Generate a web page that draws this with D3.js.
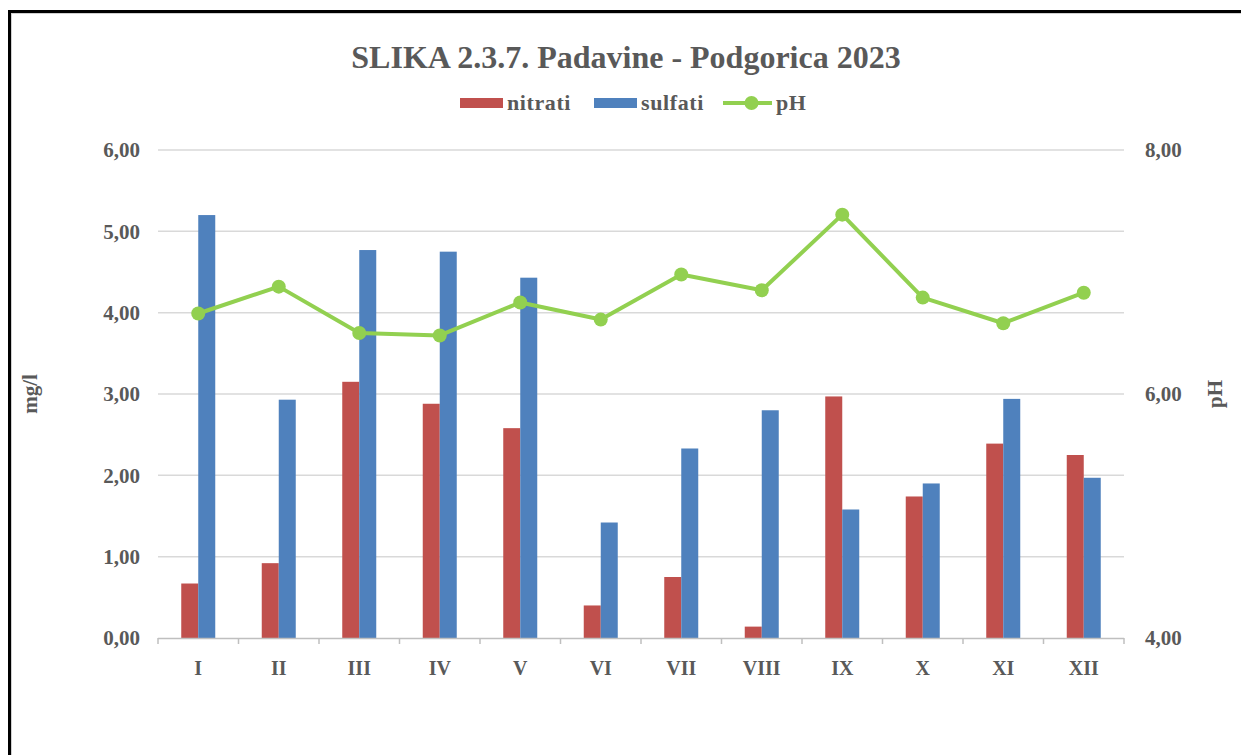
<!DOCTYPE html>
<html><head><meta charset="utf-8">
<script src="https://cdn.jsdelivr.net/npm/d3@7"></script>
<style>body{margin:0;background:#fff}svg{display:block}</style>
</head><body><svg id="c" width="1241" height="755"></svg>
<script>
const months = ["I","II","III","IV","V","VI","VII","VIII","IX","X","XI","XII"];
const nitrati = [0.67,0.92,3.15,2.88,2.58,0.40,0.75,0.14,2.97,1.74,2.39,2.25];
const sulfati = [5.20,2.93,4.77,4.75,4.43,1.42,2.33,2.80,1.58,1.90,2.94,1.97];
const pH = [6.66,6.88,6.50,6.48,6.75,6.61,6.98,6.85,7.47,6.79,6.58,6.83];
const leftTicks = [0,1,2,3,4,5,6];
const rightTicks = [4,6,8];
const seriesNames = ["nitrati","sulfati","pH"];
const colors = {nitrati:"#C0504D", sulfati:"#4F81BD", pH:"#92D050"};

const svg = d3.select("#c");
const font = "'Liberation Serif','Times New Roman',serif";
const grey = "#595959";
// frame
svg.append("rect").attr("x",9.5).attr("y",11.5).attr("width",1300).attr("height",800)
  .attr("fill","none").attr("stroke","#000").attr("stroke-width",3);
svg.append("rect").attr("x",11.5).attr("y",13.5).attr("width",1300).attr("height",800)
  .attr("fill","none").attr("stroke","#d0d0d0").attr("stroke-width",1);

const L=158, R=1124, T=150, B=638;
const x0 = d3.scaleBand().domain(months).range([L,R]).padding(0);
const bw = x0.bandwidth();
const x1 = d3.scaleBand().domain(["nitrati","sulfati"]).range([bw/2-17, bw/2+17]);
const yL = d3.scaleLinear().domain([0,6]).range([B,T]);
const yR = d3.scaleLinear().domain([4,8]).range([B,T]);
const fmt = d => d.toFixed(2).replace(".",",");

// gridlines
svg.append("g").selectAll("line").data(leftTicks.filter(d=>d>0)).join("line")
  .attr("x1",L).attr("x2",R).attr("y1",d=>yL(d)).attr("y2",d=>yL(d))
  .attr("stroke","#d9d9d9").attr("stroke-width",1.5);

// bars
months.forEach((m,i)=>{
  [["nitrati",nitrati[i]],["sulfati",sulfati[i]]].forEach(([s,v])=>{
    svg.append("rect").attr("x",x0(m)+x1(s)).attr("width",x1.bandwidth())
      .attr("y",yL(v)).attr("height",yL(0)-yL(v)).attr("fill",colors[s]);
  });
});

// x axis
const xa = svg.append("g").attr("transform",`translate(0,${B})`)
  .call(d3.axisBottom(x0).tickSize(0).tickPadding(0));
xa.select(".domain").remove();
svg.append("line").attr("x1",L).attr("x2",R).attr("y1",B+0.5).attr("y2",B+0.5).attr("stroke","#bfbfbf").attr("stroke-width",1.5);
svg.append("g").selectAll("line").data(d3.range(13)).join("line")
  .attr("x1",d=>L+d*bw).attr("x2",d=>L+d*bw).attr("y1",B).attr("y2",B+6)
  .attr("stroke","#bfbfbf").attr("stroke-width",1.5);
xa.selectAll("text").attr("y",37).attr("dy",0).attr("font-family",font).attr("font-weight","bold")
  .attr("font-size",20).attr("fill",grey);

// left axis
const ya = svg.append("g").attr("transform",`translate(${L},0)`)
  .call(d3.axisLeft(yL).tickValues(leftTicks).tickFormat(fmt).tickSize(0).tickPadding(18));
ya.select(".domain").remove();
ya.selectAll("text").attr("font-family",font).attr("font-weight","bold").attr("font-size",21).attr("fill",grey);

// right axis
const yra = svg.append("g").attr("transform",`translate(${R},0)`)
  .call(d3.axisRight(yR).tickValues(rightTicks).tickFormat(fmt).tickSize(0).tickPadding(21));
yra.select(".domain").remove();
yra.selectAll("text").attr("font-family",font).attr("font-weight","bold").attr("font-size",21).attr("fill",grey);

// pH line
const line = d3.line().x((d,i)=>x0(months[i])+bw/2).y(d=>yR(d));
svg.append("path").datum(pH).attr("d",line).attr("fill","none")
  .attr("stroke",colors.pH).attr("stroke-width",4).attr("stroke-linejoin","round");
svg.append("g").selectAll("circle").data(pH).join("circle")
  .attr("cx",(d,i)=>x0(months[i])+bw/2).attr("cy",d=>yR(d)).attr("r",7).attr("fill",colors.pH);

// axis titles
svg.append("text").attr("transform","translate(37,394) rotate(-90)").attr("text-anchor","middle")
  .attr("font-family",font).attr("font-weight","bold").attr("font-size",21).attr("fill",grey).text("mg/l");
svg.append("text").attr("transform","translate(1222,394) rotate(-90)").attr("text-anchor","middle")
  .attr("font-family",font).attr("font-weight","bold").attr("font-size",21).attr("fill",grey).text("pH");

// title
svg.append("text").attr("x",626).attr("y",68).attr("text-anchor","middle")
  .attr("font-family",font).attr("font-weight","bold").attr("font-size",32).attr("fill",grey)
  .text("SLIKA 2.3.7. Padavine - Podgorica 2023");

// legend
const lg = svg.append("g");
const legendItems = [{n:"nitrati",x:460,w:43},{n:"sulfati",x:594,w:43},{n:"pH",x:723,w:49}];
legendItems.forEach(it=>{
  if(it.n==="pH"){
    lg.append("line").attr("x1",it.x).attr("x2",it.x+it.w).attr("y1",103).attr("y2",103).attr("stroke",colors.pH).attr("stroke-width",4);
    lg.append("circle").attr("cx",it.x+it.w/2+4).attr("cy",103).attr("r",7).attr("fill",colors.pH);
  } else {
    lg.append("rect").attr("x",it.x).attr("y",98).attr("width",it.w).attr("height",10).attr("fill",colors[it.n]);
  }
  lg.append("text").attr("x",it.x+it.w+4).attr("y",110).attr("font-family",font).attr("font-weight","bold")
    .attr("font-size",22).attr("letter-spacing",0.6).attr("fill",grey).text(it.n);
});
</script></body></html>
